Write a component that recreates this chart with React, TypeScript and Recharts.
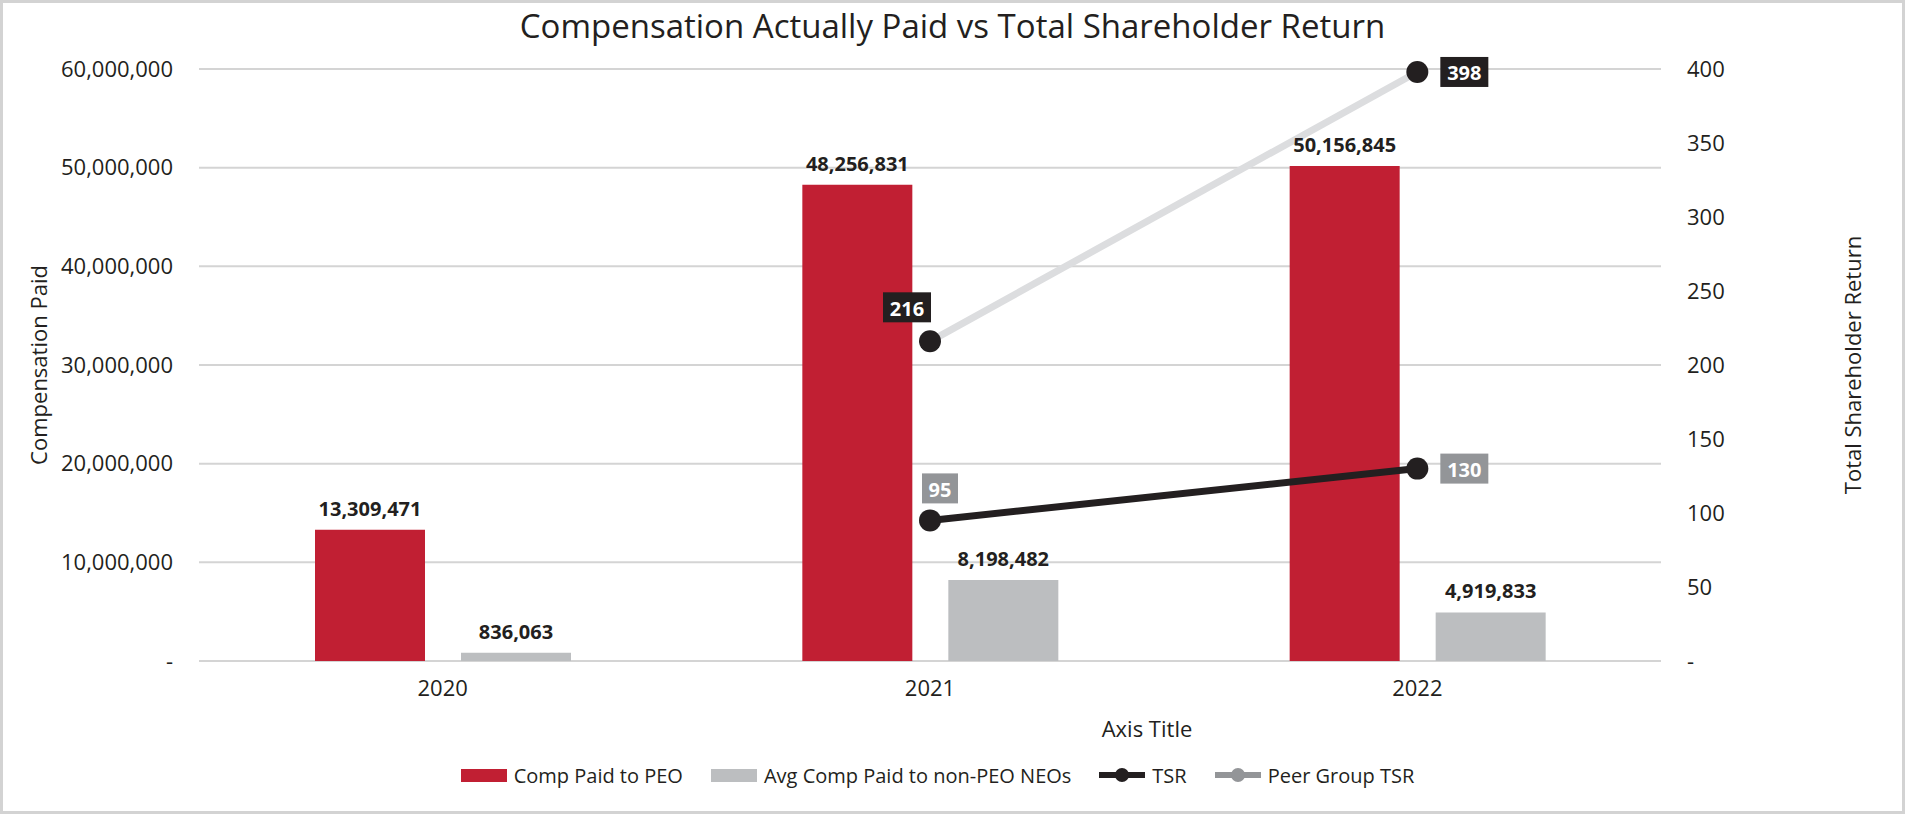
import {
  ComposedChart, Bar, Line, XAxis, YAxis, CartesianGrid, Legend, LabelList
} from 'recharts'

const years = ['2020', '2021', '2022']
const compPaidPeo = [13309471, 48256831, 50156845]
const avgCompNeo = [836063, 8198482, 4919833]
const tsr = [null, 216, 398]
const peerTsr = [null, 95, 130]

const leftTicks = [0, 10000000, 20000000, 30000000, 40000000, 50000000, 60000000]
const rightTicks = [0, 50, 100, 150, 200, 250, 300, 350, 400]

const legendItems = [
  { name: 'Comp Paid to PEO', kind: 'bar', color: '#c11f33' },
  { name: 'Avg Comp Paid to non-PEO NEOs', kind: 'bar', color: '#bcbec0' },
  { name: 'TSR', kind: 'line', color: '#231f20' },
  { name: 'Peer Group TSR', kind: 'line', color: '#939598' },
]

const data = years.map((year, i) => ({
  year,
  peo: compPaidPeo[i],
  neo: avgCompNeo[i],
  tsr: tsr[i],
  peer: peerTsr[i],
}))

const INK = '#231f20'
const FONT = '"Open Sans", sans-serif'

// "-" for zero, thousands separators otherwise (accounting style)
const fmtTick = (v: number) => (v === 0 ? '-' : v.toLocaleString('en-US'))

function makeBoxLabel(boxColor: string, placements: Record<number, string>) {
  return (props: any) => {
    const { x, y, value, index } = props
    if (value == null || x == null || y == null) return null
    const text = String(value)
    const w = text.length * 12 + 12
    const h = 30
    const place = placements[index] || 'right'
    let bx = x + 23
    let by = y - h / 2
    if (place === 'aboveLeft') {
      bx = x + 1 - w
      by = y - 19 - h
    } else if (place === 'above') {
      bx = x - 8
      by = y - 17 - h
    }
    return (
      <g>
        <rect x={bx} y={by} width={w} height={h} fill={boxColor} />
        <text
          x={bx + w / 2}
          y={by + h / 2 + 1}
          textAnchor="middle"
          dominantBaseline="central"
          fill="#ffffff"
          fontWeight={700}
          fontSize={20}
          fontFamily={FONT}
        >
          {text}
        </text>
      </g>
    )
  }
}

function renderLegend() {
  return (
    <div
      style={{
        display: 'flex',
        justifyContent: 'center',
        alignItems: 'center',
        height: 40,
        fontFamily: FONT,
        fontSize: 20,
        color: INK,
        paddingRight: 30,
      }}
    >
      {legendItems.map((item, i) => (
        <div
          key={item.name}
          style={{ display: 'flex', alignItems: 'center', marginRight: i === legendItems.length - 1 ? 0 : 28 }}
        >
          <svg width={46} height={20} style={{ marginRight: 7 }}>
            {item.kind === 'bar' ? (
              <rect x={0} y={4} width={46} height={13} fill={item.color} />
            ) : (
              <g>
                <line x1={0} y1={10} x2={46} y2={10} stroke={item.color} strokeWidth={6} />
                <circle cx={23} cy={10} r={7} fill={item.color} />
              </g>
            )}
          </svg>
          <span>{item.name}</span>
        </div>
      ))}
    </div>
  )
}

export default function App() {
  return (
    <div style={{ position: 'absolute', left: 0, top: 0, width: 1905, height: 814, background: '#fff', fontFamily: FONT }}>
      <div
        style={{
          position: 'absolute',
          left: 0,
          top: 9,
          width: 1905,
          textAlign: 'center',
          fontSize: 33,
          lineHeight: '33px',
          color: INK,
        }}
      >
        Compensation Actually Paid vs Total Shareholder Return
      </div>

      <div style={{ position: 'absolute', left: 0, top: 0 }}>
        <ComposedChart
          width={1905}
          height={814}
          data={data}
          margin={{ top: 69, right: 20, bottom: 33, left: 19 }}
          barGap={36}
          style={{ fontFamily: FONT }}
        >
          <CartesianGrid yAxisId="left" vertical={false} stroke="#d4d4d4" strokeWidth={2} />

          <XAxis
            dataKey="year"
            height={80}
            axisLine={false}
            tickLine={false}
            tickSize={0}
            tickMargin={19}
            tick={{ fill: INK, fontSize: 22 }}
            label={{ value: 'Axis Title', position: 'insideBottom', offset: 4, dx: 217, fill: INK, fontSize: 22 }}
          />

          <YAxis
            yAxisId="left"
            width={180}
            domain={[0, 60000000]}
            ticks={leftTicks}
            tickFormatter={fmtTick}
            axisLine={false}
            tickLine={false}
            tickSize={0}
            tickMargin={26}
            tick={{ fill: INK, fontSize: 22 }}
            label={{ value: 'Compensation Paid', angle: -90, position: 'center', dx: -70, fill: INK, fontSize: 22 }}
          />

          <YAxis
            yAxisId="right"
            orientation="right"
            width={224}
            domain={[0, 400]}
            ticks={rightTicks}
            tickFormatter={fmtTick}
            axisLine={false}
            tickLine={false}
            tickSize={0}
            tickMargin={26}
            tick={{ fill: INK, fontSize: 22 }}
            label={{ value: 'Total Shareholder Return', angle: -90, position: 'center', dx: 80, fill: INK, fontSize: 22 }}
          />

          <Legend
            verticalAlign="bottom"
            content={renderLegend}
            wrapperStyle={{ position: 'absolute', top: 755, left: 0, width: 1905, height: 40 }}
          />

          <Bar yAxisId="left" dataKey="peo" name="Comp Paid to PEO" fill="#c11f33" barSize={110} isAnimationActive={false}>
            <LabelList
              dataKey="peo"
              position="top"
              offset={14}
              formatter={(v: any) => Number(v).toLocaleString('en-US')}
              fill={INK}
              fontSize={20}
              fontWeight={700}
            />
          </Bar>
          <Bar yAxisId="left" dataKey="neo" name="Avg Comp Paid to non-PEO NEOs" fill="#bcbec0" barSize={110} isAnimationActive={false}>
            <LabelList
              dataKey="neo"
              position="top"
              offset={14}
              formatter={(v: any) => Number(v).toLocaleString('en-US')}
              fill={INK}
              fontSize={20}
              fontWeight={700}
            />
          </Bar>

          <Line
            yAxisId="right"
            dataKey="tsr"
            name="TSR"
            type="linear"
            stroke="#dcdddf"
            strokeWidth={7}
            dot={{ r: 11, fill: INK, stroke: INK, strokeWidth: 0 }}
            activeDot={false}
            isAnimationActive={false}
          >
            <LabelList dataKey="tsr" content={makeBoxLabel(INK, { 1: 'aboveLeft', 2: 'right' })} />
          </Line>
          <Line
            yAxisId="right"
            dataKey="peer"
            name="Peer Group TSR"
            type="linear"
            stroke={INK}
            strokeWidth={7}
            dot={{ r: 11, fill: INK, stroke: INK, strokeWidth: 0 }}
            activeDot={false}
            isAnimationActive={false}
          >
            <LabelList dataKey="peer" content={makeBoxLabel('#939598', { 1: 'above', 2: 'right' })} />
          </Line>
        </ComposedChart>
      </div>

      <div
        style={{
          position: 'absolute',
          left: 0,
          top: 0,
          width: 1905,
          height: 814,
          boxSizing: 'border-box',
          border: '3px solid #d3d3d3',
          pointerEvents: 'none',
        }}
      />
    </div>
  )
}
